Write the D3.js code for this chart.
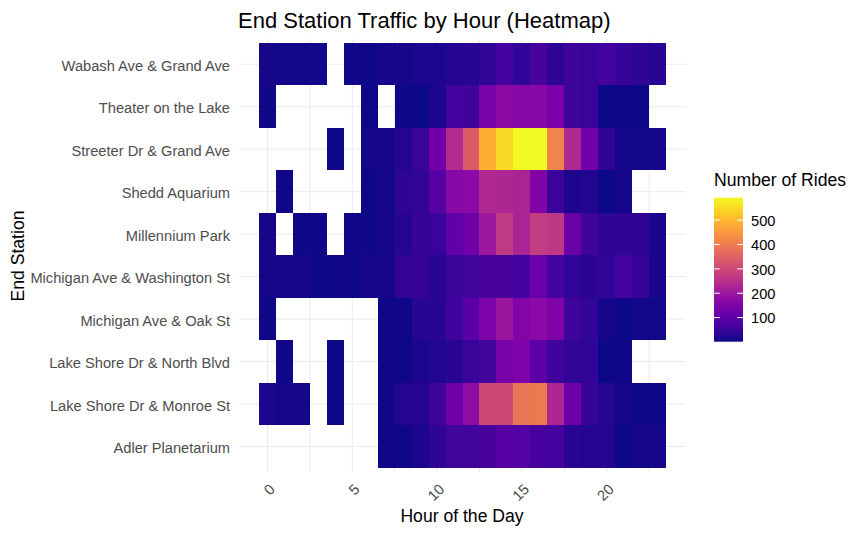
<!DOCTYPE html>
<meta charset="utf-8">
<script src="https://d3js.org/d3.v7.min.js"></script>
<style>
body { margin: 0; background: #fff; }
text { font-family: "Liberation Sans", Arial, sans-serif; }
</style>
<svg id="chart" width="866" height="535"></svg>
<script>
// stations top to bottom, as they read on the y axis
const stations = ["Wabash Ave & Grand Ave", "Theater on the Lake", "Streeter Dr & Grand Ave", "Shedd Aquarium",
  "Millennium Park", "Michigan Ave & Washington St", "Michigan Ave & Oak St", "Lake Shore Dr & North Blvd",
  "Lake Shore Dr & Monroe St", "Adler Planetarium"]
const hours = d3.range(24)

// rides per hour 0..23, null = no cell
const wabash     = [8,6,6,6,null,5,5,10,10,15,15,25,28,38,65,38,70,35,55,50,65,45,35,28]
const theater    = [5,null,null,null,null,null,3,null,3,3,15,65,55,140,170,165,165,140,55,50,3,5,2,null]
const streeter   = [null,null,null,null,3,null,8,8,25,48,130,240,340,485,550,590,590,414,232,130,35,10,6,8]
const shedd      = [null,4,null,null,null,null,5,8,35,42,90,165,170,235,230,225,155,50,15,20,2,8,null,null]
const millennium = [8,null,5,3,null,5,4,8,25,45,50,105,125,200,270,225,275,265,120,58,35,35,35,12]
const washington = [10,8,8,3,5,5,8,8,42,45,30,50,60,70,70,65,120,65,40,30,40,65,45,12]
const oak        = [5,null,null,null,null,null,null,4,4,28,30,55,95,150,195,160,170,150,55,38,10,3,6,6]
const north      = [null,4,null,null,3,null,null,4,4,15,20,28,50,60,140,150,100,55,40,40,3,4,null,null]
const monroe     = [15,8,8,null,3,null,null,4,20,25,55,125,175,300,300,390,395,230,125,45,22,8,3,5]
const adler      = [null,null,null,null,null,null,null,4,5,15,35,60,60,70,90,85,68,65,30,20,25,2,10,8]
const rides = [wabash, theater, streeter, shedd, millennium, washington, oak, north, monroe, adler]

const xTicks = [0, 5, 10, 15, 20]
const xMinor = [2.5, 7.5, 12.5, 17.5, 22.5]
const legendTicks = [100, 200, 300, 400, 500]
const ridesRange = [1, 592]

const svg = d3.select("#chart")
const panel = {left: 239, right: 686, top: 39, bottom: 472}
const fontFamily = '"Liberation Sans", Arial, sans-serif'

const x = d3.scaleLinear().domain([-0.5, 23.5]).range([259, 666])
const y = d3.scaleBand().domain(stations).range([43, 467.7])
const color = d3.scaleSequential(d3.interpolatePlasma).domain(ridesRange)

// grid
svg.append("g").selectAll("line")
  .data(xTicks.concat(xMinor))
  .join("line")
    .attr("x1", d => x(d)).attr("x2", d => x(d))
    .attr("y1", panel.top).attr("y2", panel.bottom)
    .attr("stroke", "#ebebeb")
svg.append("g").selectAll("line")
  .data(stations)
  .join("line")
    .attr("x1", panel.left).attr("x2", panel.right)
    .attr("y1", d => y(d) + y.bandwidth() / 2).attr("y2", d => y(d) + y.bandwidth() / 2)
    .attr("stroke", "#ebebeb")

// cells
const cells = []
stations.forEach((s, i) => hours.forEach(h => {
  if (rides[i][h] !== null) cells.push({station: s, hour: h, value: rides[i][h]})
}))
svg.append("g").selectAll("rect")
  .data(cells)
  .join("rect")
    .attr("x", d => x(d.hour - 0.5))
    .attr("y", d => y(d.station))
    .attr("width", x(1) - x(0))
    .attr("height", y.bandwidth())
    .attr("fill", d => color(d.value))
    .attr("shape-rendering", "crispEdges")

// axes
const yAxis = svg.append("g")
  .attr("transform", "translate(230,2)")
  .call(d3.axisLeft(y).tickSize(0).tickPadding(0))
yAxis.select(".domain").remove()
yAxis.selectAll("text").attr("font-size", 14.67).attr("fill", "#4d4d4d")
  .style("font-family", fontFamily)

const xAxis = svg.append("g")
  .attr("transform", "translate(0,487.5)")
  .call(d3.axisBottom(x).tickValues(xTicks).tickSize(0).tickPadding(0))
xAxis.select(".domain").remove()
xAxis.selectAll("text")
  .attr("font-size", 14.67).attr("fill", "#4d4d4d")
  .style("font-family", fontFamily)
  .attr("text-anchor", "end").attr("dy", null).attr("y", 0)
  .attr("transform", "translate(5,0) rotate(-45)")
  .attr("dominant-baseline", "middle")

// titles
svg.append("text").attr("x", 238).attr("y", 27.5).attr("font-size", 22).text("End Station Traffic by Hour (Heatmap)")
svg.append("text").attr("x", 462).attr("y", 522).attr("font-size", 17.6).attr("text-anchor", "middle").text("Hour of the Day")
svg.append("text").attr("transform", "translate(24,256) rotate(-90)").attr("font-size", 17.6)
  .attr("text-anchor", "middle").text("End Station")

// legend
const legendY = d3.scaleLinear().domain(ridesRange).range([341.7, 197.7])
const defs = svg.append("defs")
const grad = defs.append("linearGradient").attr("id", "plasma")
  .attr("x1", 0).attr("x2", 0).attr("y1", 1).attr("y2", 0)
grad.selectAll("stop")
  .data(d3.range(0, 1.001, 0.05))
  .join("stop")
    .attr("offset", d => d)
    .attr("stop-color", d => d3.interpolatePlasma(d))
svg.append("text").attr("x", 714).attr("y", 186).attr("font-size", 17.6).text("Number of Rides")
svg.append("rect").attr("x", 714).attr("y", 197.7).attr("width", 29).attr("height", 144).attr("fill", "url(#plasma)")
const legend = svg.append("g")
legend.selectAll("line.l")
  .data(legendTicks)
  .join("line")
    .attr("class", "l")
    .attr("x1", 714).attr("x2", 719.8)
    .attr("y1", d => legendY(d)).attr("y2", d => legendY(d))
    .attr("stroke", "#fff")
legend.selectAll("line.r")
  .data(legendTicks)
  .join("line")
    .attr("class", "r")
    .attr("x1", 737.2).attr("x2", 743)
    .attr("y1", d => legendY(d)).attr("y2", d => legendY(d))
    .attr("stroke", "#fff")
const legendAxis = svg.append("g")
  .attr("transform", "translate(751,0.5)")
  .call(d3.axisRight(legendY).tickValues(legendTicks).tickSize(0).tickPadding(0))
legendAxis.select(".domain").remove()
legendAxis.selectAll("text").attr("font-size", 14.67).attr("fill", "#000")
  .style("font-family", fontFamily)
</script>
